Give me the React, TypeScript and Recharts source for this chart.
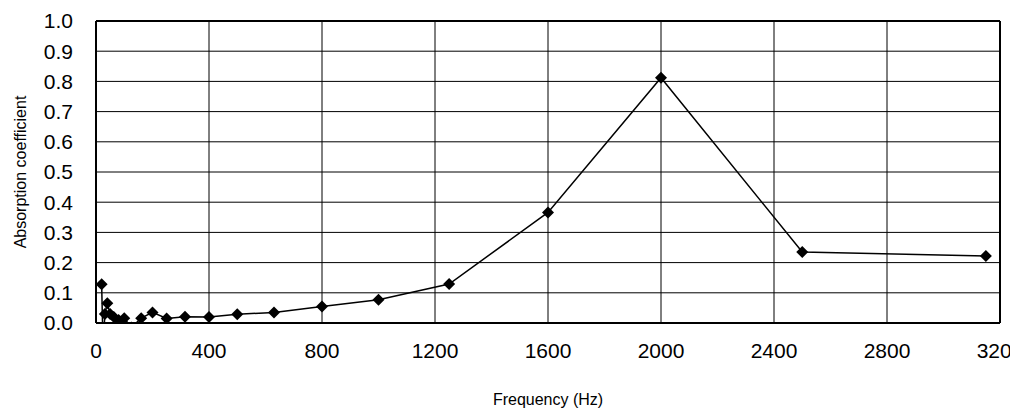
import {
  LineChart,
  Line,
  XAxis,
  YAxis,
  CartesianGrid,
  ReferenceLine,
} from "recharts";

const frequencies: number[] = [
  20, 25, 31.5, 40, 50, 63, 80, 100, 125, 160, 200, 250, 315, 400, 500, 630,
  800, 1000, 1250, 1600, 2000, 2500, 3150,
];

const absorption: number[] = [
  0.128, -0.08, 0.03, 0.065, 0.03, 0.02, 0.01, 0.016, -0.015, 0.016, 0.035,
  0.015, 0.021, 0.02, 0.029, 0.035, 0.055, 0.077, 0.129, 0.366, 0.812, 0.235,
  0.222,
];

const xTicks: number[] = [0, 400, 800, 1200, 1600, 2000, 2400, 2800, 3200];
const yTicks: number[] = [0, 0.1, 0.2, 0.3, 0.4, 0.5, 0.6, 0.7, 0.8, 0.9, 1.0];

const data = frequencies.map((f, i) => ({ freq: f, value: absorption[i] }));

const FONT = "'Liberation Sans', Arial, sans-serif";

const Diamond = (props: any) => {
  const { cx, cy, index } = props;
  if (cx == null || cy == null) return <g key={index} />;
  const r = 6;
  return (
    <polygon
      key={index}
      points={`${cx},${cy - r} ${cx + r},${cy} ${cx},${cy + r} ${cx - r},${cy}`}
      fill="#000"
    />
  );
};

const App = () => {
  return (
    <div style={{ position: "absolute", left: 0, top: 0, fontFamily: FONT }}>
      <LineChart
        width={1010}
        height={408}
        data={data}
        margin={{ top: 21, right: 10, left: 0, bottom: 0 }}
      >
        <CartesianGrid stroke="#000" strokeWidth={1} />
        <XAxis
          type="number"
          dataKey="freq"
          domain={[0, 3200]}
          ticks={xTicks}
          interval={0}
          allowDataOverflow
          height={85}
          tickLine={false}
          axisLine={{ stroke: "#000", strokeWidth: 2 }}
          tick={{ fill: "#000", fontSize: 21, fontFamily: FONT }}
          tickMargin={14}
          label={{
            value: "Frequency (Hz)",
            position: "insideBottom",
            offset: 3,
            fill: "#000",
            fontSize: 16,
            fontFamily: FONT,
          }}
        />
        <YAxis
          type="number"
          domain={[0, 1]}
          ticks={yTicks}
          interval={0}
          allowDataOverflow
          width={96}
          tickLine={false}
          axisLine={{ stroke: "#000", strokeWidth: 2 }}
          tickFormatter={(v: number) => v.toFixed(1)}
          tick={{ fill: "#000", fontSize: 21, fontFamily: FONT }}
          tickMargin={17}
          label={{
            value: "Absorption coefficient",
            angle: -90,
            position: "insideLeft",
            offset: 20,
            style: { textAnchor: "middle" },
            fill: "#000",
            fontSize: 16,
            fontFamily: FONT,
          }}
        />
        <ReferenceLine y={1} stroke="#000" strokeWidth={2} />
        <ReferenceLine x={3200} stroke="#000" strokeWidth={2} />
        <Line
          type="linear"
          dataKey="value"
          stroke="#000"
          strokeWidth={1.5}
          dot={Diamond}
          activeDot={false}
          isAnimationActive={false}
        />
      </LineChart>
    </div>
  );
};

export default App;
